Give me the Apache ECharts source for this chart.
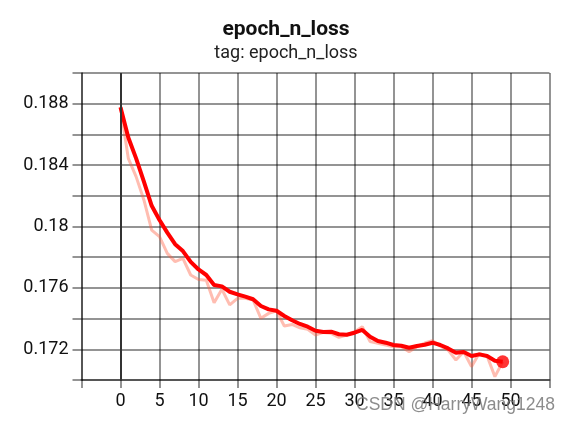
<!DOCTYPE html>
<html>
<head>
<meta charset="utf-8">
<script src="https://cdn.jsdelivr.net/npm/echarts@6/dist/echarts.min.js"></script>
<style>html,body{margin:0;padding:0;background:#fff}#c{width:572px;height:424px}</style>
</head>
<body>
<div id="c"></div>
<script>
var epochs = [];
for (var i = 0; i < 50; i++) epochs.push(i);
var smoothedLoss = [0.18777,0.18580,0.18444,0.18292,0.18135,0.18042,0.17960,0.17885,0.17840,0.17770,
  0.17720,0.17684,0.17619,0.17610,0.17575,0.17558,0.17543,0.17526,0.17482,0.17460,
  0.17451,0.17417,0.17389,0.17365,0.17347,0.17321,0.17313,0.17315,0.17298,0.17295,
  0.17308,0.17326,0.17282,0.17254,0.17243,0.17228,0.17223,0.17210,0.17221,0.17230,
  0.17243,0.17228,0.17206,0.17178,0.17182,0.17156,0.17167,0.17156,0.17126,0.17119];
var rawLoss = [0.18777,0.18444,0.18325,0.18173,0.17977,0.17934,0.17825,0.17771,0.17793,0.17684,
  0.17655,0.17650,0.17504,0.17591,0.17489,0.17532,0.17532,0.17521,0.17402,0.17434,
  0.17451,0.17352,0.17362,0.17340,0.17330,0.17293,0.17310,0.17304,0.17278,0.17293,
  0.17315,0.17347,0.17250,0.17239,0.17228,0.17217,0.17217,0.17184,0.17217,0.17241,
  0.17256,0.17221,0.17195,0.17130,0.17184,0.17087,0.17174,0.17156,0.17022,0.17119];
var yTickLabels = ['0.172','0.176','0.18','0.184','0.188'];
var xTickLabels = ['0','5','10','15','20','25','30','35','40','45','50'];

var chart = echarts.init(document.getElementById('c'));
var font = 'Roboto, sans-serif';
var gridColor = 'rgba(0,0,0,0.42)';
var last = epochs.length - 1;
chart.setOption({
  animation: false,
  title: {
    text: 'epoch_n_loss',
    subtext: 'tag: epoch_n_loss',
    left: 'center',
    top: 14,
    itemGap: 4,
    textStyle: {fontFamily: font, fontSize: 21, fontWeight: 'bold', color: '#111'},
    subtextStyle: {fontFamily: font, fontSize: 18, color: '#222'}
  },
  grid: {left: 81.5, right: 22.5, top: 73, bottom: 44},
  xAxis: {
    type: 'value', min: -5, max: 55, interval: 5,
    axisLine: {show: true, lineStyle: {color: gridColor, width: 2}},
    axisTick: {show: true, length: 8, lineStyle: {color: gridColor, width: 2}},
    splitLine: {show: true, lineStyle: {color: gridColor, width: 2}},
    axisLabel: {
      fontFamily: font, fontSize: 18, color: '#111', margin: 12,
      formatter: function (v) { var s = String(Math.round(v)); return xTickLabels.indexOf(s) >= 0 ? s : ''; }
    }
  },
  yAxis: {
    type: 'value', min: 0.170, max: 0.190, interval: 0.002,
    axisLine: {show: true, onZero: false, lineStyle: {color: gridColor, width: 2}},
    axisTick: {show: true, length: 9, lineStyle: {color: gridColor, width: 2}},
    splitLine: {show: true, lineStyle: {color: gridColor, width: 2}},
    axisLabel: {
      fontFamily: font, fontSize: 18, color: '#111', margin: 13,
      formatter: function (v) { var s = String(parseFloat(v.toFixed(3))); return yTickLabels.indexOf(s) >= 0 ? s : ''; }
    }
  },
  series: [
    {
      type: 'line', name: 'raw',
      data: epochs.map(function (e, i) { return [e, rawLoss[i]]; }),
      showSymbol: false, symbol: 'none',
      lineStyle: {color: '#ff5a3c', width: 3, opacity: 0.4},
      z: 2,
      markLine: {
        silent: true, symbol: 'none', label: {show: false},
        lineStyle: {color: '#333', width: 2, type: 'solid'},
        data: [{xAxis: 0}]
      }
    },
    {
      type: 'line', name: 'smoothed',
      data: epochs.map(function (e, i) { return [e, smoothedLoss[i]]; }),
      showSymbol: false, symbol: 'none',
      lineStyle: {color: '#ff0000', width: 4},
      z: 3
    },
    {
      type: 'scatter',
      data: [[epochs[last], smoothedLoss[last]]],
      symbol: 'circle', symbolSize: 13,
      itemStyle: {color: '#ff0000'},
      z: 4
    }
  ],
  graphic: [{
    type: 'text', right: 17, top: 396, z: 100,
    style: {text: 'CSDN @HarryWang1248', fontFamily: '"Liberation Sans", Arial, sans-serif', fontSize: 17.5, fill: 'rgba(120,120,120,0.85)'}
  }]
});
</script>
</body>
</html>
